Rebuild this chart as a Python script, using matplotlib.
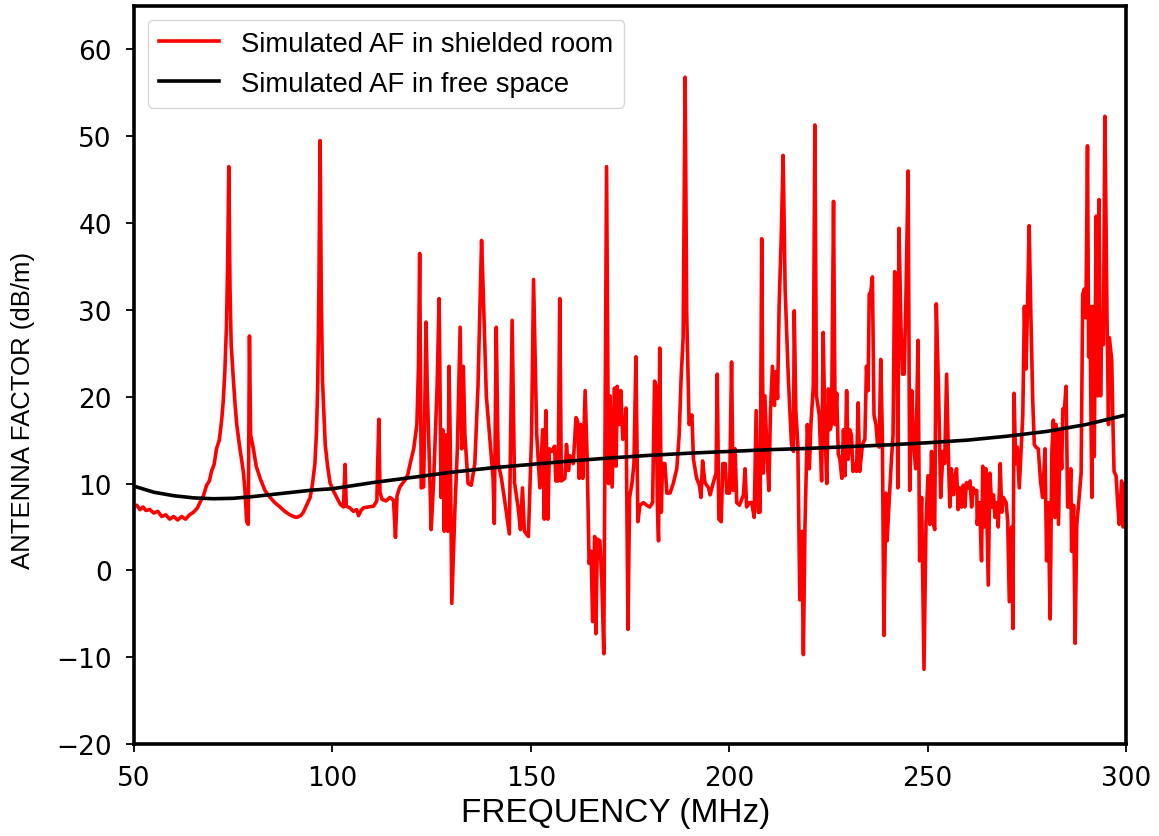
import matplotlib
matplotlib.use("Agg")
import numpy as np
import matplotlib.pyplot as plt

# Simulated AF in shielded room (red)
room_freq = [
    50.0, 50.7, 51.5, 52.3, 53.0, 54.0, 55.0, 56.0, 57.0, 58.0, 59.0, 60.0, 61.0, 62.0, 63.0,
    64.0, 65.0, 66.0, 66.6, 67.5, 68.3, 69.0, 69.6, 70.2, 70.8, 71.5, 72.1, 72.5, 72.9, 73.3,
    73.6, 73.9, 74.2, 74.5, 75.0, 75.5, 75.9, 76.7, 77.2, 77.6, 78.0, 78.4, 78.8, 79.1, 79.4,
    80.1, 80.8, 81.8, 83.0, 84.3, 85.5, 86.8, 88.0, 89.3, 90.2, 91.0, 92.0, 92.7, 93.5, 94.4,
    95.0, 95.6, 96.0, 96.3, 96.6, 96.9, 97.2, 97.5, 98.2, 98.8, 99.4, 100.2, 101.1, 102.0, 102.8,
    103.2, 103.5, 104.4, 105.3, 106.1, 106.6, 107.2, 107.8, 109.0, 110.4, 111.2, 111.7, 112.0, 112.5, 113.5,
    114.5, 115.4, 115.9, 116.3, 117.0, 118.3, 119.0, 119.6, 120.5, 121.3, 121.7, 122.0, 122.4, 123.0, 123.6,
    123.9, 124.6, 124.9, 125.5, 126.4, 126.9, 127.4, 127.8, 128.2, 128.6, 129.1, 129.4, 129.7, 130.1, 130.9,
    131.5, 132.2, 132.6, 133.0, 133.4, 134.2, 135.0, 135.9, 136.7, 137.6, 138.0, 138.8, 139.8, 140.5, 140.8,
    141.3, 141.8, 142.6, 143.5, 144.6, 145.3, 145.9, 146.8, 147.4, 147.9, 148.4, 149.4, 150.2, 150.7, 151.5,
    152.3, 153.0, 153.4, 153.8, 154.3, 154.7, 155.3, 156.0, 156.3, 156.9, 157.3, 157.7, 158.6, 159.0, 159.5,
    159.9, 160.7, 161.4, 161.8, 162.2, 162.6, 163.1, 163.7, 164.2, 164.7, 165.2, 165.6, 166.1, 166.4, 166.8,
    167.4, 167.9, 168.4, 169.1, 169.6, 170.0, 170.5, 171.1, 171.5, 171.8, 172.3, 172.7, 173.2, 173.6, 174.0,
    174.5, 174.9, 175.5, 176.0, 176.5, 177.0, 177.5, 178.4, 179.2, 180.0, 180.7, 181.2, 181.6, 181.9, 182.2,
    182.5, 182.9, 183.2, 183.8, 184.3, 185.1, 185.9, 186.8, 187.4, 187.9, 188.4, 188.9, 189.3, 189.9, 190.6,
    191.0, 191.8, 192.5, 192.9, 193.3, 193.9, 194.8, 195.2, 196.0, 196.7, 197.0, 197.4, 198.0, 198.4, 199.0,
    199.4, 200.1, 200.6, 201.0, 201.5, 201.9, 202.6, 203.6, 204.0, 204.4, 205.1, 205.7, 206.3, 206.8, 207.3,
    207.8, 208.2, 208.6, 209.0, 209.6, 210.0, 210.4, 210.9, 211.4, 211.8, 212.2, 212.6, 213.1, 213.6, 214.1,
    214.9, 215.7, 216.2, 216.4, 216.8, 217.3, 217.8, 218.3, 218.7, 219.1, 219.7, 220.2, 220.6, 221.2, 221.6,
    222.0, 222.7, 223.3, 223.7, 224.1, 224.6, 225.0, 225.4, 225.8, 226.3, 226.7, 227.1, 227.5, 227.9, 228.4,
    228.8, 229.2, 229.6, 230.0, 230.4, 230.8, 231.2, 231.7, 232.1, 232.5, 232.9, 233.6, 234.2, 234.6, 235.0,
    235.3, 235.7, 236.1, 236.5, 237.0, 237.4, 237.8, 238.2, 238.6, 239.0, 239.5, 239.8, 240.3, 240.9, 241.3,
    241.7, 242.2, 242.5, 242.8, 243.3, 243.7, 244.1, 244.5, 245.1, 245.5, 246.0, 246.5, 247.0, 247.6, 248.0,
    248.5, 249.1, 249.6, 250.1, 250.6, 251.0, 251.4, 251.8, 252.2, 252.8, 253.3, 253.9, 254.3, 254.8, 255.3,
    255.6, 256.0, 256.5, 256.9, 257.3, 257.7, 258.1, 258.6, 259.0, 259.4, 259.8, 260.2, 260.7, 261.1, 261.5,
    262.0, 262.4, 262.5, 263.1, 263.6, 263.9, 264.3, 264.7, 265.3, 265.7, 266.2, 266.6, 267.0, 267.4, 267.8,
    268.3, 268.7, 269.1, 269.8, 270.2, 270.6, 271.2, 271.5, 271.8, 272.2, 272.6, 273.1, 273.6, 274.0, 274.4,
    274.8, 275.2, 275.6, 276.0, 276.5, 276.9, 277.3, 277.9, 278.5, 279.0, 279.6, 280.0, 280.4, 280.9, 281.3,
    281.7, 282.1, 282.4, 283.0, 283.4, 283.8, 284.1, 284.5, 284.9, 285.3, 285.7, 286.1, 286.3, 286.8, 287.2,
    287.6, 288.0, 288.7, 289.1, 289.5, 289.9, 290.3, 290.6, 290.9, 291.4, 291.6, 292.0, 292.5, 292.9, 293.2,
    293.6, 293.9, 294.3, 294.7, 295.2, 295.6, 295.8, 296.4, 296.7, 297.0, 297.5, 297.9, 298.3, 298.9, 299.3,
    299.6, 300.0,
]
room_af = [
    7.4, 7.5, 7.0, 7.3, 6.9, 7.0, 6.6, 6.8, 6.2, 6.4, 5.9, 6.2, 5.8, 6.2, 5.9,
    6.4, 6.7, 7.2, 7.8, 8.6, 9.8, 10.3, 11.5, 12.2, 14.0, 15.0, 17.3, 19.5, 22.9, 28.0,
    35.0, 46.5, 32.4, 26.0, 22.3, 19.0, 16.8, 14.0, 12.5, 11.2, 9.0, 5.6, 5.3, 27.0, 15.6,
    14.0, 12.0, 10.6, 9.2, 8.4, 7.8, 7.3, 6.8, 6.4, 6.2, 6.1, 6.3, 6.7, 7.5, 8.4,
    10.0, 12.3, 16.0, 21.2, 32.0, 49.5, 32.0, 22.0, 14.5, 12.0, 10.1, 9.2, 8.4, 7.6, 7.3,
    12.2, 7.4, 7.2, 6.8, 7.0, 6.3, 6.9, 7.2, 7.3, 7.4, 8.0, 17.4, 9.0, 8.2, 8.0,
    8.4, 8.1, 3.8, 8.6, 9.6, 10.4, 11.0, 12.3, 14.0, 16.8, 23.5, 36.5, 9.5, 9.6, 28.6,
    21.2, 10.0, 4.7, 10.1, 21.2, 31.3, 8.4, 16.2, 4.5, 15.6, 4.5, 23.5, 15.0, -3.8, 7.3,
    14.0, 28.0, 14.0, 23.5, 15.6, 10.0, 9.8, 12.3, 21.2, 38.0, 32.4, 20.1, 14.5, 10.6, 5.4,
    28.0, 12.3, 10.6, 7.8, 4.2, 28.8, 10.1, 7.3, 4.7, 9.5, 4.5, 3.9, 15.6, 33.5, 15.6,
    9.5, 16.2, 5.9, 18.4, 5.9, 14.0, 13.7, 14.3, 10.3, 10.3, 31.3, 10.3, 10.6, 14.5, 11.5,
    13.2, 12.3, 17.6, 17.2, 10.6, 16.8, 10.6, 20.7, 13.0, 0.8, 2.2, -5.9, 3.9, -7.3, 3.6,
    3.4, -1.1, -9.6, 46.5, 10.0, 20.1, 9.6, 21.0, 12.0, 21.2, 16.8, 20.7, 15.1, 15.4, 18.7,
    -6.8, 8.4, 10.0, 12.3, 24.6, 5.6, 7.5, 7.8, 7.5, 7.3, 7.8, 21.8, 21.2, 7.8, 3.4,
    25.6, 6.7, 12.3, 12.3, 8.9, 8.9, 10.0, 11.7, 15.6, 22.3, 26.8, 56.8, 29.6, 16.8, 17.9,
    12.8, 10.6, 9.8, 8.4, 12.6, 10.1, 9.5, 8.7, 10.1, 11.2, 22.6, 5.9, 5.6, 12.3, 12.3,
    8.9, 8.9, 24.0, 9.2, 14.0, 7.8, 7.5, 8.7, 11.7, 7.3, 7.8, 7.8, 6.1, 18.4, 6.7,
    6.7, 38.2, 11.2, 20.1, 12.8, 9.2, 18.2, 23.5, 19.0, 22.9, 19.8, 30.7, 38.0, 47.8, 32.4,
    22.3, 14.5, 13.7, 29.9, 18.4, 14.5, -3.4, 4.5, -9.7, 5.0, 16.8, 11.7, 16.8, 21.2, 51.3,
    20.1, 17.9, 10.3, 27.4, 16.8, 10.0, 20.9, 16.2, 16.8, 42.5, 16.8, 20.4, 13.4, 12.8, 10.6,
    16.2, 10.9, 20.7, 12.8, 16.2, 15.6, 11.4, 12.3, 11.4, 19.3, 11.4, 14.5, 15.1, 23.5, 20.7,
    31.8, 32.1, 33.8, 17.9, 16.8, 14.5, 14.2, 24.3, 15.6, -7.5, 8.9, 3.4, 7.8, 12.8, 15.6,
    34.4, 34.1, 9.5, 39.4, 27.9, 22.6, 22.6, 30.2, 46.0, 9.2, 20.7, 14.5, 11.7, 26.5, 1.1,
    8.4, -11.4, 5.3, 10.9, 5.3, 13.7, 5.6, 4.7, 30.7, 20.1, 8.4, 13.7, 12.3, 22.6, 12.3,
    7.3, 11.7, 8.7, 10.6, 11.7, 7.0, 9.5, 7.3, 9.8, 7.3, 10.1, 9.5, 10.3, 7.3, 9.5,
    8.9, 9.2, 5.3, 7.8, 1.1, 12.0, 5.0, 11.7, -1.7, 11.2, 7.3, 8.7, 6.1, 7.8, 5.0,
    12.3, 6.7, 8.4, 7.8, 5.6, -3.6, 5.0, -6.7, 20.4, 12.3, 14.2, 9.5, 14.2, 17.9, 30.4,
    23.2, 30.7, 39.7, 30.2, 19.6, 14.5, 14.2, 14.0, 10.1, 8.4, 14.0, 1.1, 7.8, -5.6, 13.4,
    17.3, 6.1, 16.8, 5.3, 16.2, 11.7, 18.6, 18.6, 21.2, 7.3, 7.3, 11.7, 2.2, 7.5, -8.4,
    5.3, 7.3, 11.2, 31.8, 32.4, 29.1, 48.9, 24.6, 30.4, 8.4, 30.4, 13.1, 40.8, 20.1, 42.7,
    20.1, 29.3, 26.0, 52.3, 29.9, 16.8, 26.8, 24.3, 17.3, 11.4, 10.9, 7.8, 5.3, 10.3, 5.0,
    10.0, 9.5,
]

# Simulated AF in free space (black)
free_freq = [50, 55, 60, 65, 70, 75, 80, 85, 90, 95, 100, 110, 120, 130, 140, 150,
             160, 170, 180, 190, 200, 210, 220, 230, 240, 250, 260, 270, 280, 290, 300]
free_af = [9.7, 9.0, 8.6, 8.35, 8.25, 8.3, 8.5, 8.75, 9.0, 9.25, 9.4, 10.1, 10.7, 11.3, 11.8, 12.2,
           12.6, 12.95, 13.25, 13.5, 13.7, 13.9, 14.05, 14.25, 14.45, 14.7, 15.0, 15.45, 16.0, 16.8, 17.9]

LABEL_FONT = ["Liberation Sans", "DejaVu Sans"]

fig = plt.figure(figsize=(11.59, 8.37), dpi=100)
ax = fig.add_axes([0.1156, 0.1099, 0.8559, 0.8817])

ax.plot(room_freq, room_af, color="red", lw=2.6, label="Simulated AF in shielded room")
ax.plot(free_freq, free_af, color="black", lw=2.6, label="Simulated AF in free space")

ax.set_xlim(50, 300)
ax.set_ylim(-20, 65)
ax.set_yticks(np.arange(-20, 61, 10))
ax.set_xticks([50, 100, 150, 200, 250, 300])
ax.tick_params(labelsize=19, length=6, width=1.3)
ax.tick_params(axis="x", pad=9)
ax.tick_params(axis="y", pad=10)
for s in ax.spines.values():
    s.set_linewidth(2.6)

ax.set_xlabel("FREQUENCY (MHz)", fontsize=24, family=LABEL_FONT)
ax.set_ylabel("ANTENNA FACTOR (dB/m)", fontsize=18.5, family=LABEL_FONT)
ax.xaxis.set_label_coords(0.486, -0.072)
ax.yaxis.set_label_coords(-0.100, 0.454)

ax.legend(loc="upper left", prop={"family": LABEL_FONT, "size": 19.8},
          handlelength=2.2, handletextpad=0.8, borderaxespad=0.5)

fig.savefig("out.png", dpi=100)
